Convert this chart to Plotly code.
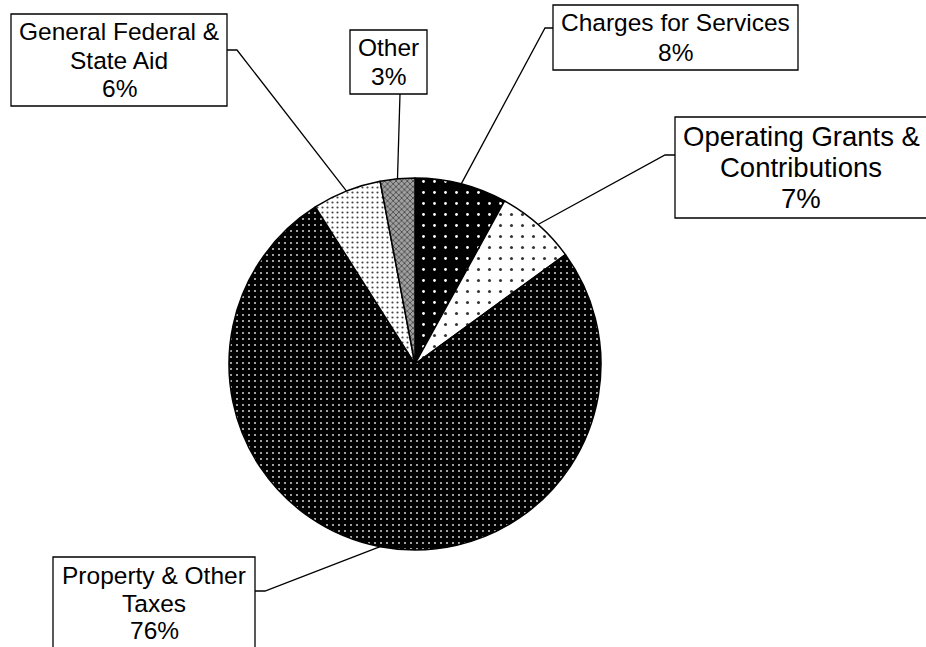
import math
import plotly.graph_objects as go

# ---- data ----
categories = ["Charges for Services", "Operating Grants & Contributions",
              "Property & Other Taxes", "General Federal & State Aid", "Other"]
values = [8, 7, 76, 6, 3]
label_lines = [["Charges for Services"],
               ["Operating Grants &", "Contributions"],
               ["Property & Other", "Taxes"],
               ["General Federal &", "State Aid"],
               ["Other"]]
pct_labels = ["8%", "7%", "76%", "6%", "3%"]

# ---- layout / style ----
W, H = 926, 647
CX, CY, R = 415, 364, 186  # pie centre / radius in pixels

bg_colors = ["black", "white", "black", "white", "#a0a0a0"]
fg_colors = ["white", "#333333", "#c8c8c8", "#444444", "#2a2a2a"]
pat_shapes = [".", ".", ".", ".", "x"]
pat_sizes = [11, 11, 6, 5, 4]
pat_solid = [0.05, 0.06, 0.1, 0.15, 0.3]

# label boxes: (x0, y0, x1, y1) px, font size, line spacing, attach pt, elbow pt
boxes = [
    dict(box=(553, 5, 798, 70), fs=24.5, sp=30, att=(553, 28), elb=(545, 28)),
    dict(box=(675, 117, 930, 218), fs=27.5, sp=31, att=(675, 155), elb=(665, 155)),
    dict(box=(53, 557, 255, 649), fs=24.5, sp=27.5, att=(255, 591), elb=(265, 591)),
    dict(box=(11, 14, 227, 106), fs=24.5, sp=28.5, att=(227, 50), elb=(237, 50)),
    dict(box=(350, 30, 427, 94), fs=24.5, sp=29, att=(400, 94), elb=None),
]


def px(x):
    return x / W


def py(y):
    return 1 - y / H


fig = go.Figure(go.Pie(
    labels=categories,
    values=values,
    sort=False,
    direction="clockwise",
    rotation=0,
    textinfo="none",
    hoverinfo="label+percent",
    showlegend=False,
    domain=dict(x=[px(CX - R), px(CX + R)], y=[py(CY + R), py(CY - R)]),
    marker=dict(
        colors=bg_colors,
        line=dict(color="black", width=1.5),
        pattern=dict(shape=pat_shapes, bgcolor=bg_colors, fgcolor=fg_colors,
                     size=pat_sizes, solidity=pat_solid, fillmode="replace"),
    ),
))

shapes = []
annotations = []
total = sum(values)
cum = 0
for i, v in enumerate(values):
    mid = 2 * math.pi * (cum + v / 2) / total
    cum += v
    sx = CX + R * math.sin(mid)
    sy = CY - R * math.cos(mid)
    b = boxes[i]
    x0, y0, x1, y1 = b["box"]
    # leader line
    pts = [b["att"]]
    if b["elb"]:
        pts.append(b["elb"])
    pts.append((sx, sy))
    path = "M " + " L ".join(f"{px(a)},{py(c)}" for a, c in pts)
    shapes.append(dict(type="path", path=path, xref="paper", yref="paper",
                       line=dict(color="black", width=1.3)))
    # box
    shapes.append(dict(type="rect", xref="paper", yref="paper",
                       x0=px(x0), x1=px(x1), y0=py(y1), y1=py(y0),
                       line=dict(color="black", width=1.3), fillcolor="white"))
    lines = label_lines[i] + [pct_labels[i]]
    cxb = (x0 + x1) / 2 if i != 1 else 801
    cyb = (y0 + y1) / 2
    n = len(lines)
    for k, t in enumerate(lines):
        ly = cyb + (k - (n - 1) / 2) * b["sp"]
        annotations.append(dict(text=t, x=px(cxb), y=py(ly), xref="paper", yref="paper",
                                showarrow=False, xanchor="center", yanchor="middle",
                                font=dict(family="Liberation Sans, Arial", size=b["fs"],
                                          color="black")))

fig.update_layout(
    width=W, height=H,
    margin=dict(l=0, r=0, t=0, b=0),
    paper_bgcolor="white", plot_bgcolor="white",
    shapes=shapes, annotations=annotations,
)

fig.write_html("out.html")
